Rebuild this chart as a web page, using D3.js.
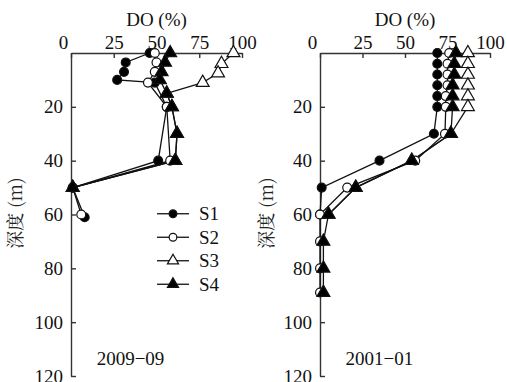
<!DOCTYPE html>
<html>
<head>
<meta charset="utf-8">
<script src="https://cdn.jsdelivr.net/npm/d3@7"></script>
<style>
  body { margin: 0; background: #fff; font-family: "Liberation Serif", serif; }
  svg text { font-family: "Liberation Serif", "Times New Roman", serif !important; }
  svg text.cjk { font-family: "Noto Serif CJK SC", "Noto Sans CJK SC", serif !important; }
</style>
</head>
<body>
<div id="chart"></div>
<script>
// Tick labels
var xTicks = [0, 25, 50, 75, 100];
var yTicks = [20, 40, 60, 80, 100, 120];
var seriesNames = ["S1", "S2", "S3", "S4"];

// Panel 2009-09: depth (m) and DO (%) per station
var depth09S1 = [0, 3.5, 7, 10, 11, 20, 40, 50, 61];
var do09S1 = [46, 32, 31, 27, 49, 56, 51, 1, 8];
var depth09S2 = [0, 3.5, 7, 11, 20, 40, 50, 60];
var do09S2 = [49, 50, 49, 45, 56, 58, 1, 6];
var depth09S3 = [0, 4, 7.5, 11, 15, 20, 30, 40, 50];
var do09S3 = [95, 88, 86, 77, 56, 59, 62, 61, 1];
var depth09S4 = [0, 3.5, 7, 10, 15, 20, 30, 40, 50];
var do09S4 = [58, 55, 53, 52, 56, 59, 62, 61, 1];

// Panel 2001-01
var depth01S1 = [0, 4, 8, 12, 16, 20, 30, 40, 50, 60];
var do01S1 = [69, 69, 69, 69, 69, 69, 67, 35, 1, 0];
var depth01S2 = [0, 4, 8, 12, 16, 20, 30, 40, 50, 60, 70, 80, 89];
var do01S2 = [76, 75, 75, 75, 74, 74, 73.5, 56, 16, 0, 0, 0, 0];
var depth01S3 = [0, 4, 8, 12, 16, 20, 30, 40, 50, 60];
var do01S3 = [87, 87, 87, 87, 87, 87, 77, 54, 21, 5];
var depth01S4 = [0, 4, 8, 12, 16, 20, 30, 40, 50, 60, 70, 80, 89];
var do01S4 = [80, 79, 79, 78, 78, 78, 77, 54, 21, 5, 2, 2, 2];

var width = 507, height = 382;

var svg = d3.select("#chart").append("svg")
    .attr("width", width)
    .attr("height", height);

var yScale = d3.scaleLinear().domain([0, 120]).range([53, 376]);

// marker styles per station
var markerStyle = [
    { shape: d3.symbolCircle, fill: "#000", size: 62 },
    { shape: d3.symbolCircle, fill: "#fff", size: 62 },
    { shape: d3.symbolTriangle, fill: "#fff", size: 72 },
    { shape: d3.symbolTriangle, fill: "#000", size: 72 }
];

function zip(depths, vals) {
    return depths.map(function(d, i) { return { depth: d, val: vals[i] }; });
}

function drawPanel(x0, x1, series, title, labelX) {
    var xScale = d3.scaleLinear().domain([0, 100]).range([x0, x1]);
    var g = svg.append("g");

    // top axis
    var topAxis = d3.axisTop(xScale).tickValues(xTicks).tickSize(-5).tickSizeOuter(0).tickPadding(4);
    var xa = g.append("g")
        .attr("transform", "translate(0," + yScale(0) + ")")
        .call(topAxis);
    xa.selectAll("text")
        .attr("dx", function(d) { return d === 0 ? -8 : 0; });

    // left axis
    var leftAxis = d3.axisLeft(yScale).tickValues(yTicks).tickSize(-5).tickSizeOuter(0).tickPadding(8);
    var ya = g.append("g")
        .attr("transform", "translate(" + xScale(0) + ",0)")
        .call(leftAxis);

    xa.attr("font-family", null).attr("font-size", 19);
    ya.attr("font-family", null).attr("font-size", 19);
    g.selectAll(".domain, .tick line").attr("stroke", "#333").attr("stroke-width", 1.4);
    g.selectAll(".tick text").attr("fill", "#111");

    // axis titles
    g.append("text")
        .attr("x", xScale(50))
        .attr("y", 26)
        .attr("text-anchor", "middle")
        .attr("font-size", 19)
        .attr("fill", "#111")
        .text("DO (%)");

    g.append("text")
        .attr("class", "cjk")
        .attr("transform", "translate(" + labelX + "," + 213 + ") rotate(-90)")
        .attr("text-anchor", "middle")
        .attr("dy", "0.35em")
        .attr("font-size", 18)
        .attr("fill", "#222")
        .text("深度 (m)");

    // panel label
    g.append("text")
        .attr("x", xScale(15))
        .attr("y", 365)
        .attr("font-size", 19)
        .attr("fill", "#111")
        .text(title);

    var line = d3.line()
        .x(function(d) { return xScale(d.val); })
        .y(function(d) { return yScale(d.depth); });

    series.forEach(function(s) {
        g.append("path")
            .datum(s)
            .attr("d", line)
            .attr("fill", "none")
            .attr("stroke", "#111")
            .attr("stroke-width", 1.3);
    });

    series.forEach(function(s, i) {
        var m = markerStyle[i];
        g.selectAll(".m" + i)
            .data(s)
            .enter().append("path")
            .attr("class", "m" + i)
            .attr("d", d3.symbol().type(m.shape).size(m.size))
            .attr("transform", function(d) {
                return "translate(" + xScale(d.val) + "," + yScale(d.depth) + ")";
            })
            .attr("fill", m.fill)
            .attr("stroke", "#111")
            .attr("stroke-width", 1.2);
    });
}

drawPanel(71, 242, [zip(depth09S1, do09S1), zip(depth09S2, do09S2),
    zip(depth09S3, do09S3), zip(depth09S4, do09S4)], "2009\u221209", 16);

drawPanel(320, 490, [zip(depth01S1, do01S1), zip(depth01S2, do01S2),
    zip(depth01S3, do01S3), zip(depth01S4, do01S4)], "2001\u221201", 267);

// legend
var legendRows = d3.scaleBand().domain(seriesNames).range([202, 296]);
var legend = svg.append("g");
seriesNames.forEach(function(name, i) {
    var cy = legendRows(name) + legendRows.bandwidth() / 2;
    legend.append("line")
        .attr("x1", 157).attr("x2", 189)
        .attr("y1", cy).attr("y2", cy)
        .attr("stroke", "#111").attr("stroke-width", 1.3);
    legend.append("path")
        .attr("d", d3.symbol().type(markerStyle[i].shape).size(markerStyle[i].size * 0.75))
        .attr("transform", "translate(173," + cy + ")")
        .attr("fill", markerStyle[i].fill)
        .attr("stroke", "#111")
        .attr("stroke-width", 1.2);
    legend.append("text")
        .attr("x", 199)
        .attr("y", cy + 6.5)
        .attr("font-size", 19)
        .attr("fill", "#111")
        .text(name);
});
</script>
</body>
</html>
